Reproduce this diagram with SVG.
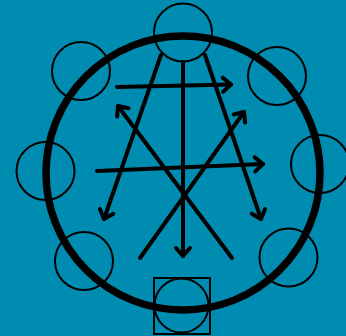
<svg xmlns="http://www.w3.org/2000/svg" width="346" height="336" viewBox="0 0 346 336">
<style>
.bg{fill:#008cb0}
.node{fill:none;stroke:#000;stroke-width:2}
.ring{fill:none;stroke:#000;stroke-width:7.5}
.edge{fill:none;stroke:#000;stroke-width:4;stroke-linecap:round;marker-end:url(#arr)}
</style>
<defs>
<marker id="arr" markerUnits="userSpaceOnUse" viewBox="-14 -10 18 20" refX="0" refY="0" markerWidth="18" markerHeight="20" orient="auto" overflow="visible">
<path d="M-8,-7 L0,0 L-8,7" fill="none" stroke="#000" stroke-width="4" stroke-linejoin="round" stroke-linecap="round"/>
</marker>
</defs>
<rect class="bg" x="0" y="0" width="346" height="336"/>
<g id="ring"><circle class="ring" cx="183" cy="173" r="137"/></g>
<g id="n-top"><circle class="node" cx="183" cy="32.5" r="29"/></g>
<g id="n-topleft"><circle class="node" cx="81" cy="71" r="29"/></g>
<g id="n-topright"><circle class="node" cx="277" cy="76" r="29"/></g>
<g id="n-left"><circle class="node" cx="45.5" cy="171" r="29"/></g>
<g id="n-right"><circle class="node" cx="320" cy="164" r="29"/></g>
<g id="n-bottomleft"><circle class="node" cx="84" cy="261" r="29"/></g>
<g id="n-bottomright"><circle class="node" cx="288.5" cy="257.5" r="29"/></g>
<g id="n-bottom"><rect class="node" x="154" y="278" width="56" height="56"/><circle class="node" cx="181.5" cy="305.5" r="27"/></g>
<g id="connectors">
<line class="edge" x1="161" y1="55" x2="104" y2="219"/>
<line class="edge" x1="183" y1="62" x2="183" y2="256"/>
<line class="edge" x1="205" y1="55" x2="261" y2="219"/>
<line class="edge" x1="117" y1="87" x2="231" y2="84.5"/>
<line class="edge" x1="97" y1="171" x2="263" y2="164"/>
<line class="edge" x1="232" y1="258" x2="118" y2="106"/>
<line class="edge" x1="140" y1="258" x2="244" y2="112"/>
</g>
</svg>
